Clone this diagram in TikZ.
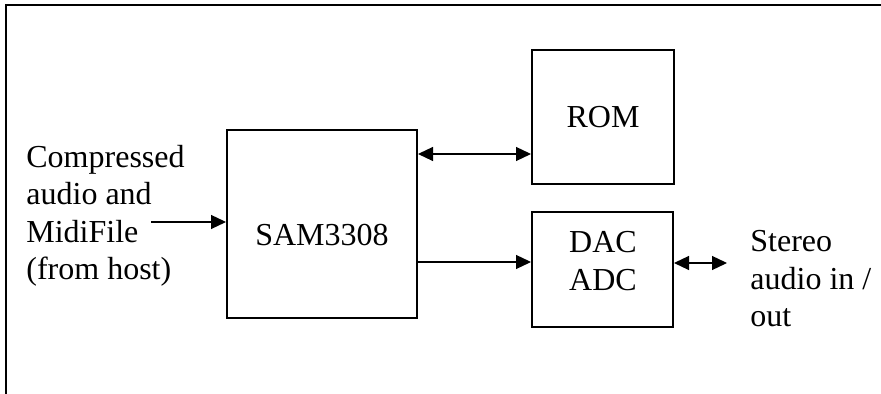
\documentclass[tikz,border=0pt]{standalone}
\usepackage{fontspec}
\setmainfont{Liberation Serif}
\usetikzlibrary{arrows.meta}
\tikzset{
  block/.style={draw, line width=1pt, inner sep=0pt},
  link/.style={line width=0.6pt, {Triangle[length=7.5pt,width=7pt]}-{Triangle[length=7.5pt,width=7pt]}},
  feed/.style={line width=0.6pt, -{Triangle[length=7.5pt,width=7pt]}},
  lbl/.style={align=left, inner sep=0pt, anchor=west}
}
\begin{document}
\begin{tikzpicture}[x=0.5pt, y=-0.5pt, font=\fontsize{16}{18.75}\selectfont]
          \useasboundingbox (0,0) rectangle (881,394);
          % frame
          \draw[line width=1.1pt] (6,394) -- (6,5) -- (881,5);
          % blocks
          \node[block, minimum width=95pt, minimum height=94pt] (sam) at (322,224) {};
          \node (samtxt) at (322,235) {SAM3308};
          \node[block, minimum width=71pt, minimum height=67pt] (rom) at (603,117) {ROM};
          \node[block, minimum width=70.5pt, minimum height=57.5pt, align=center] (dac) at (602.5,269.5) {};
          \node[align=center, inner sep=0pt] (dactxt) at (603,261) {DAC\\ADC};
          % labels
          \node[lbl] (host) at (26,216) {Compressed\\audio and\\MidiFile\\(from host)};
          \node[lbl] (stereo) at (750,279) {Stereo\\audio in /\\out};
          % links
          \coordinate (hostend) at (151,222);
          \coordinate (romlink) at (0,154);
          \coordinate (daclink) at (0,262);
          \coordinate (stereoend) at (727,263);
          \draw[feed] (hostend) -- (hostend -| sam.west);
          \draw[link] (romlink -| sam.east) -- (romlink -| rom.west);
          \draw[feed] (daclink -| sam.east) -- (daclink -| dac.west);
          \draw[link] (stereoend -| dac.east) -- (stereoend);
\end{tikzpicture}
\end{document}
